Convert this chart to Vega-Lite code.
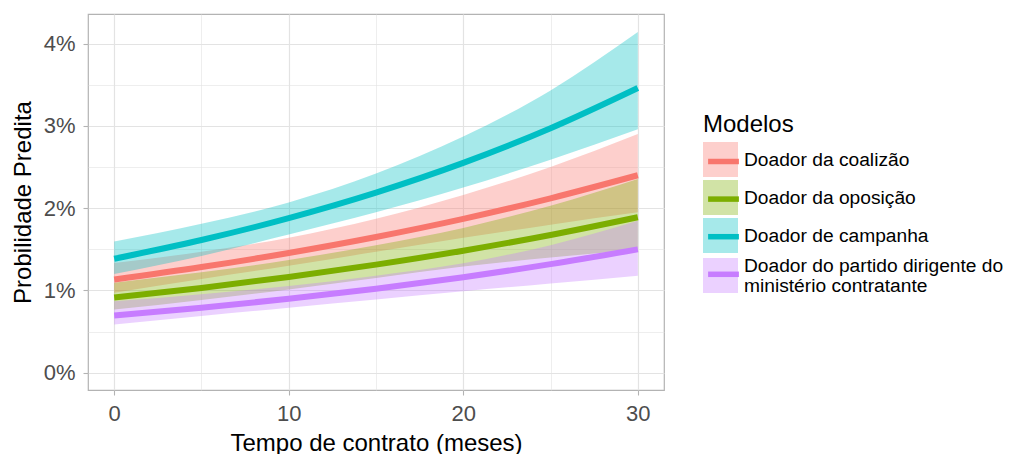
{
  "$schema": "https://vega.github.io/schema/vega-lite/v6.json",
  "width": 576,
  "height": 376,
  "autosize": {"type": "none"},
  "padding": {"left": 88, "top": 14, "right": 346, "bottom": 64},
  "background": "white",
  "config": {
    "font": "Liberation Sans",
    "view": {"stroke": "#B3B3B3", "strokeWidth": 1.2},
    "axis": {
      "domain": false,
      "tickColor": "#B3B3B3",
      "tickSize": 5,
      "tickWidth": 1.1,
      "gridColor": "#E3E3E3",
      "labelFont": "Liberation Sans",
      "labelFontSize": 22,
      "labelColor": "#4D4D4D",
      "labelOverlap": false,
      "labelFlush": false,
      "titleFont": "Liberation Sans",
      "titleFontSize": 24,
      "titleFontWeight": "normal",
      "titleColor": "#000000"
    },
    "legend": {"padding": 0}
  },
  "data": {
    "values": [
      {"modelo": "Doador da coalizão", "t": 0, "p": 0.01133, "lo": 0.00973, "hi": 0.01333},
      {"modelo": "Doador da coalizão", "t": 5, "p": 0.01284, "lo": 0.0114, "hi": 0.0147},
      {"modelo": "Doador da coalizão", "t": 10, "p": 0.01456, "lo": 0.013, "hi": 0.0164},
      {"modelo": "Doador da coalizão", "t": 15, "p": 0.0165, "lo": 0.0147, "hi": 0.0187},
      {"modelo": "Doador da coalizão", "t": 20, "p": 0.0187, "lo": 0.0164, "hi": 0.0216},
      {"modelo": "Doador da coalizão", "t": 25, "p": 0.0212, "lo": 0.018, "hi": 0.025},
      {"modelo": "Doador da coalizão", "t": 30, "p": 0.024, "lo": 0.0195, "hi": 0.029},
      {"modelo": "Doador da oposição", "t": 0, "p": 0.00913, "lo": 0.00767, "hi": 0.01095},
      {"modelo": "Doador da oposição", "t": 5, "p": 0.01031, "lo": 0.00885, "hi": 0.0122},
      {"modelo": "Doador da oposição", "t": 10, "p": 0.01164, "lo": 0.0101, "hi": 0.0137},
      {"modelo": "Doador da oposição", "t": 15, "p": 0.01314, "lo": 0.0115, "hi": 0.0155},
      {"modelo": "Doador da oposição", "t": 20, "p": 0.01483, "lo": 0.0129, "hi": 0.0176},
      {"modelo": "Doador da oposição", "t": 25, "p": 0.01674, "lo": 0.014, "hi": 0.0203},
      {"modelo": "Doador da oposição", "t": 30, "p": 0.0189, "lo": 0.01495, "hi": 0.02355},
      {"modelo": "Doador de campanha", "t": 0, "p": 0.01385, "lo": 0.012, "hi": 0.01595},
      {"modelo": "Doador de campanha", "t": 5, "p": 0.01613, "lo": 0.0142, "hi": 0.0181},
      {"modelo": "Doador de campanha", "t": 10, "p": 0.01879, "lo": 0.0168, "hi": 0.0207},
      {"modelo": "Doador de campanha", "t": 15, "p": 0.02189, "lo": 0.0195, "hi": 0.0242},
      {"modelo": "Doador de campanha", "t": 20, "p": 0.0255, "lo": 0.0225, "hi": 0.0287},
      {"modelo": "Doador de campanha", "t": 25, "p": 0.02971, "lo": 0.0259, "hi": 0.0343},
      {"modelo": "Doador de campanha", "t": 30, "p": 0.0346, "lo": 0.0296, "hi": 0.0414},
      {"modelo": "Doador do partido dirigente do ministério contratante", "t": 0, "p": 0.00695, "lo": 0.00585, "hi": 0.00868},
      {"modelo": "Doador do partido dirigente do ministério contratante", "t": 5, "p": 0.0079, "lo": 0.0069, "hi": 0.00955},
      {"modelo": "Doador do partido dirigente do ministério contratante", "t": 10, "p": 0.00898, "lo": 0.0079, "hi": 0.01055},
      {"modelo": "Doador do partido dirigente do ministério contratante", "t": 15, "p": 0.01021, "lo": 0.0089, "hi": 0.0118},
      {"modelo": "Doador do partido dirigente do ministério contratante", "t": 20, "p": 0.01161, "lo": 0.0099, "hi": 0.0133},
      {"modelo": "Doador do partido dirigente do ministério contratante", "t": 25, "p": 0.0132, "lo": 0.01085, "hi": 0.0155},
      {"modelo": "Doador do partido dirigente do ministério contratante", "t": 30, "p": 0.015, "lo": 0.0118, "hi": 0.01846}
    ]
  },
  "layer": [
    {
      "mark": {"type": "area", "opacity": 0.35, "interpolate": "monotone"},
      "encoding": {
        "x": {
          "field": "t",
          "type": "quantitative",
          "scale": {"domain": [-1.5, 31.5], "nice": false, "zero": false},
          "title": "Tempo de contrato (meses)",
          "axis": {
            "values": [0, 5, 10, 15, 20, 25, 30],
            "labelExpr": "datum.value % 10 === 0 ? datum.label : ''",
            "gridWidth": {"condition": {"test": "datum.value % 10 === 0", "value": 1.2}, "value": 0.6},
            "tickOpacity": {"condition": {"test": "datum.value % 10 === 0", "value": 1}, "value": 0},
            "labelPadding": 8,
            "titleBaseline": "alphabetic",
            "titleY": 60
          }
        },
        "y": {
          "field": "lo",
          "type": "quantitative",
          "scale": {"domain": [-0.0021, 0.0436], "nice": false, "zero": false},
          "title": "Probilidade Predita",
          "axis": {
            "values": [0, 0.005, 0.01, 0.015, 0.02, 0.025, 0.03, 0.035, 0.04],
            "format": ".0%",
            "labelExpr": "abs(datum.value * 100 - round(datum.value * 100)) < 0.000001 ? datum.label : ''",
            "gridWidth": {"condition": {"test": "abs(datum.value * 100 - round(datum.value * 100)) < 0.000001", "value": 1.2}, "value": 0.6},
            "tickOpacity": {"condition": {"test": "abs(datum.value * 100 - round(datum.value * 100)) < 0.000001", "value": 1}, "value": 0},
            "labelPadding": 8,
            "titleBaseline": "alphabetic",
            "titleX": -58
          }
        },
        "y2": {"field": "hi"},
        "fill": {
          "field": "modelo",
          "type": "nominal",
          "scale": {
            "domain": ["Doador da coalizão", "Doador da oposição", "Doador de campanha", "Doador do partido dirigente do ministério contratante"],
            "range": ["#F8766D", "#7CAE00", "#00BFC4", "#C77CFF"]
          },
          "legend": {
            "orient": "none",
            "legendX": 615,
            "legendY": 99,
            "title": "Modelos",
            "titleFontSize": 24,
            "titleFontWeight": "normal",
            "titleColor": "#000000",
            "titlePadding": 5,
            "labelFontSize": 19.2,
            "labelColor": "#000000",
            "labelLimit": 400,
            "labelOffset": 6,
            "labelExpr": "indexof(datum.label, 'partido') >= 0 ? ['Doador do partido dirigente do', 'ministério contratante'] : datum.label",
            "symbolType": "square",
            "symbolSize": 1225,
            "symbolOpacity": 0.35,
            "symbolStrokeWidth": 0,
            "rowPadding": 3,
            "encode": {
              "labels": {
                "update": {
                  "dy": {"signal": "indexof(datum.label, 'partido') >= 0 ? -10 : 0"},
                  "lineHeight": {"value": 20}
                }
              }
            }
          }
        }
      }
    },
    {
      "mark": {"type": "line", "strokeWidth": 6, "interpolate": "monotone"},
      "encoding": {
        "x": {"field": "t", "type": "quantitative"},
        "y": {"field": "p", "type": "quantitative"},
        "stroke": {
          "field": "modelo",
          "type": "nominal",
          "scale": {"range": ["#F8766D", "#7CAE00", "#00BFC4", "#C77CFF"]},
          "legend": {
            "orient": "none",
            "legendX": 615,
            "legendY": 127,
            "title": null,
            "labelFontSize": 1,
            "labelOpacity": 0,
            "labelLimit": 400,
            "labelOffset": 0,
            "labelExpr": "''",
            "symbolType": "M-0.88,0H0.88",
            "symbolSize": 1225,
            "symbolStrokeWidth": 5.5,
            "symbolFillColor": "transparent",
            "rowPadding": 5.6
          }
        }
      }
    }
  ]
}
